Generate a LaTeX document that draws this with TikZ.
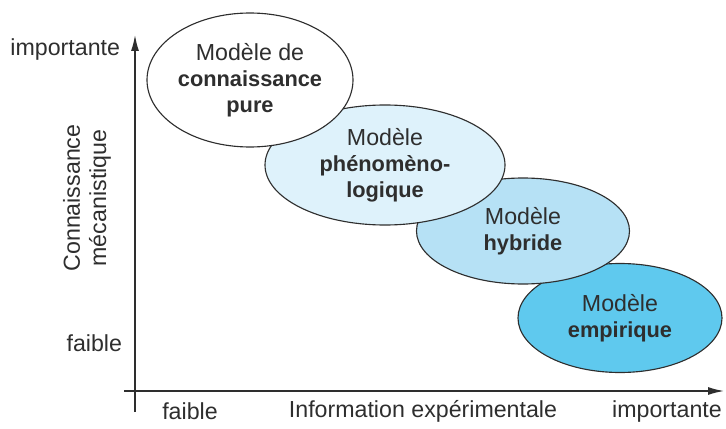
\documentclass[tikz,border=0pt]{standalone}
\usepackage{fontspec}
\setmainfont{Liberation Sans}
\usetikzlibrary{shapes.geometric,arrows.meta}

\definecolor{bluepale}{HTML}{DEF2FB}
\definecolor{bluemid}{HTML}{B6E1F5}
\definecolor{bluedeep}{HTML}{5FC9EE}
\definecolor{inkgrey}{HTML}{2E2E2E}

\newcommand{\motcle}[1]{{\fontsize{15.5}{18.5}\selectfont\bfseries #1}}

\tikzset{
  model/.style={ellipse,draw=inkgrey,line width=0.8pt,inner sep=0pt,
    align=center,text=inkgrey,font=\fontsize{16.5}{18.5}\selectfont},
  axislabel/.style={text=inkgrey,font=\fontsize{16.5}{18.5}\selectfont},
  axe/.style={draw=inkgrey,line width=1pt,-{Latex[length=4mm,width=2mm]}}
}

\begin{document}
\begin{tikzpicture}
\useasboundingbox (0,0) rectangle (18.15,10.7);

\path
    (3.375,0.4) coordinate (ybot)
    (3.375,9.825) coordinate (ytop)
    (3.1,0.925) coordinate (xleft)
    (18.1,0.925) coordinate (xright);
\draw [axe] (ybot) -- (ytop);
\draw [axe] (xleft) -- (xright);

\path
    (15.5,2.75) node [model,fill=bluedeep,minimum width=5.1cm,
      minimum height=2.725cm] (empir) {Modèle\\\motcle{empirique}}
    (13.075,4.925) node [model,fill=bluemid,minimum width=5.325cm,
      minimum height=2.65cm] (hybr) {Modèle\\\motcle{hybride}}
    (9.625,6.575) node [model,fill=bluepale,minimum width=6cm,
      minimum height=3cm] (pheno)
	{Modèle\\\motcle{phénomèno-}\\\motcle{logique}}
    (6.25,8.7) node [model,fill=white,minimum width=5.15cm,
      minimum height=3.35cm] (kpure)
	{Modèle de\\\motcle{connaissance}\\\motcle{pure}};

\path
    [axislabel]
    (3.125,9.45) node [anchor=east] (yhigh) {importante}
    (3.175,2.125) node [anchor=east] (ylow) {faible}
    (2.175,5.75) node [rotate=90,align=center] (ytitle)
	{Connaissance\\mécanistique}
    (4.75,0.42) node (xlow) {faible}
    (10.575,0.42) node (xtitle) {Information expérimentale}
    (16.675,0.42) node (xhigh) {importante};
\end{tikzpicture}
\end{document}
